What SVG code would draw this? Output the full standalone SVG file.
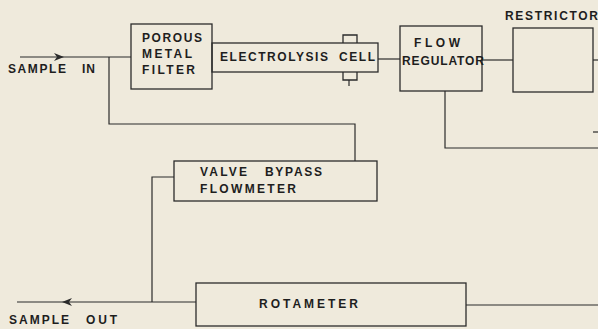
<svg xmlns="http://www.w3.org/2000/svg" width="598" height="329" viewBox="0 0 598 329">
<defs>
<style>
.bg{fill:#efeadc}
.box{fill:none;stroke:#2b2b2b;stroke-width:1.3}
.ln{fill:none;stroke:#2b2b2b;stroke-width:1.2}
.t{font-family:"Liberation Sans",Arial,sans-serif;font-weight:bold;font-size:12px;fill:#1e1e1e}
</style>
<marker id="arr" viewBox="0 0 10 8" refX="9" refY="4" markerWidth="10" markerHeight="8" markerUnits="userSpaceOnUse" orient="auto">
<path d="M0,0 L10,4 L0,8 L3,4 Z" fill="#2b2b2b"/>
</marker>
</defs>
<rect class="bg" x="0" y="0" width="598" height="329"/>

<g id="connectors">
<path class="ln" d="M20,57 L63,57 L131,57" marker-mid="url(#arr)"/>
<path class="ln" d="M109,57 L109,124 L355,124 L355,161"/>
<path class="ln" d="M378,59 L400,59"/>
<path class="ln" d="M482,60 L513,60"/>
<path class="ln" d="M593,60 L598,60"/>
<path class="ln" d="M445,91 L445,148 L598,148"/>
<path class="ln" d="M593,132 L598,132"/>
<path class="ln" d="M174,177 L152,177 L152,302"/>
<path class="ln" d="M196,302 L63,302 L17,302" marker-mid="url(#arr)"/>
<path class="ln" d="M466,305 L598,305"/>
</g>

<g id="sample-in">
<text class="t" y="73"><tspan x="8" textLength="58" lengthAdjust="spacing">SAMPLE</tspan><tspan x="82" textLength="13" lengthAdjust="spacing">IN</tspan></text>
</g>

<g id="sample-out">
<text class="t" y="324"><tspan x="9" textLength="60" lengthAdjust="spacing">SAMPLE</tspan><tspan x="86" textLength="31" lengthAdjust="spacing">OUT</tspan></text>
</g>

<g id="porous-metal-filter">
<rect class="box" x="131" y="24" width="81" height="65"/>
<text class="t" x="142" y="42" textLength="60" lengthAdjust="spacing">POROUS</text>
<text class="t" x="142" y="58" textLength="50" lengthAdjust="spacing">METAL</text>
<text class="t" x="142" y="74" textLength="53" lengthAdjust="spacing">FILTER</text>
</g>

<g id="electrolysis-cell">
<rect class="box" x="212" y="43" width="166" height="29"/>
<path class="box" d="M343,43 L343,35 L357,35 L357,43"/>
<path class="box" d="M343,72 L343,80 L357,80 L357,72"/>
<path class="ln" d="M349,80 L349,86"/>
<text class="t" y="61"><tspan x="220" textLength="108" lengthAdjust="spacing">ELECTROLYSIS</tspan><tspan x="339" textLength="36" lengthAdjust="spacing">CELL</tspan></text>
</g>

<g id="flow-regulator">
<rect class="box" x="400" y="26" width="82" height="65"/>
<text class="t" x="414" y="47" textLength="46" lengthAdjust="spacing">FLOW</text>
<text class="t" x="402" y="65" textLength="82" lengthAdjust="spacing">REGULATOR</text>
</g>

<g id="restrictor">
<rect class="box" x="513" y="28" width="80" height="64"/>
<text class="t" x="505" y="20" textLength="93" lengthAdjust="spacing">RESTRICTOR</text>
</g>

<g id="valve-bypass-flowmeter">
<rect class="box" x="174" y="161" width="203" height="40"/>
<text class="t" y="176"><tspan x="200" textLength="47" lengthAdjust="spacing">VALVE</tspan><tspan x="265" textLength="57" lengthAdjust="spacing">BYPASS</tspan></text>
<text class="t" x="200" y="193" textLength="96" lengthAdjust="spacing">FLOWMETER</text>
</g>

<g id="rotameter">
<rect class="box" x="196" y="283" width="270" height="43"/>
<text class="t" x="259" y="308" textLength="99" lengthAdjust="spacing">ROTAMETER</text>
</g>
</svg>
